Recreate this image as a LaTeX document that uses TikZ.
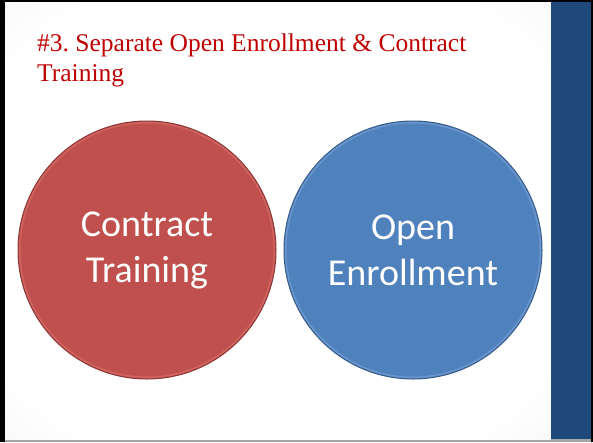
\documentclass[tikz,border=0pt]{standalone}
\usepackage{fontspec}
\setmainfont{Liberation Serif}
\newfontfamily\bodyfont{Carlito}
\frenchspacing
\definecolor{titlered}{HTML}{C00000}
\definecolor{circred}{HTML}{C0504D}
\definecolor{circredline}{HTML}{8C3836}
\definecolor{circredrim}{HTML}{D9706C}
\definecolor{circblue}{HTML}{4F81BD}
\definecolor{circblueline}{HTML}{385D8A}
\definecolor{circbluerim}{HTML}{7BA3D6}
\definecolor{barblue}{HTML}{1F487B}
\pgfdeclareradialshading{slidebg}{\pgfpoint{0bp}{0bp}}{color(0bp)=(white); color(30bp)=(white); color(50bp)=(black!8); color(71bp)=(black!17)}
\begin{document}
\begin{tikzpicture}[x=1pt,y=-1pt,
  bubble/.style={circle, minimum size=258pt, inner sep=0pt, line width=1pt,
    text=white, align=center, font=\bodyfont\fontsize{38}{46}\selectfont},
  rim/.style={line width=1.6pt},
  title/.style={anchor=base west, inner sep=0pt, text=titlered, align=left,
    font=\fontsize{25.5}{30}\selectfont}]
\useasboundingbox (0,0) rectangle (593,442);
% frame
\fill[black] (0,0) rectangle (593,442);
\fill[gray!70] (5,439) rectangle (591,442);
% slide background
\shade[shading=slidebg] (5,2) rectangle (551,439);
% right bar
\fill[barblue] (551,2) rectangle (591,439);
% title
\node[title] (t) at (37,81) {\#3. Separate Open Enrollment \& Contract\\Training};
% circles
\node[bubble, fill=circred, draw=circredline] (ct) at (147,250) {Contract\\Training};
\draw[rim, circredrim, opacity=0.6] (ct.center) circle (127.3);
\node[bubble, fill=circblue, draw=circblueline] (oe) at (413,250) {Open\\Enrollment};
\draw[rim, circbluerim, opacity=0.6] (oe.center) circle (127.3);
\end{tikzpicture}
\end{document}
